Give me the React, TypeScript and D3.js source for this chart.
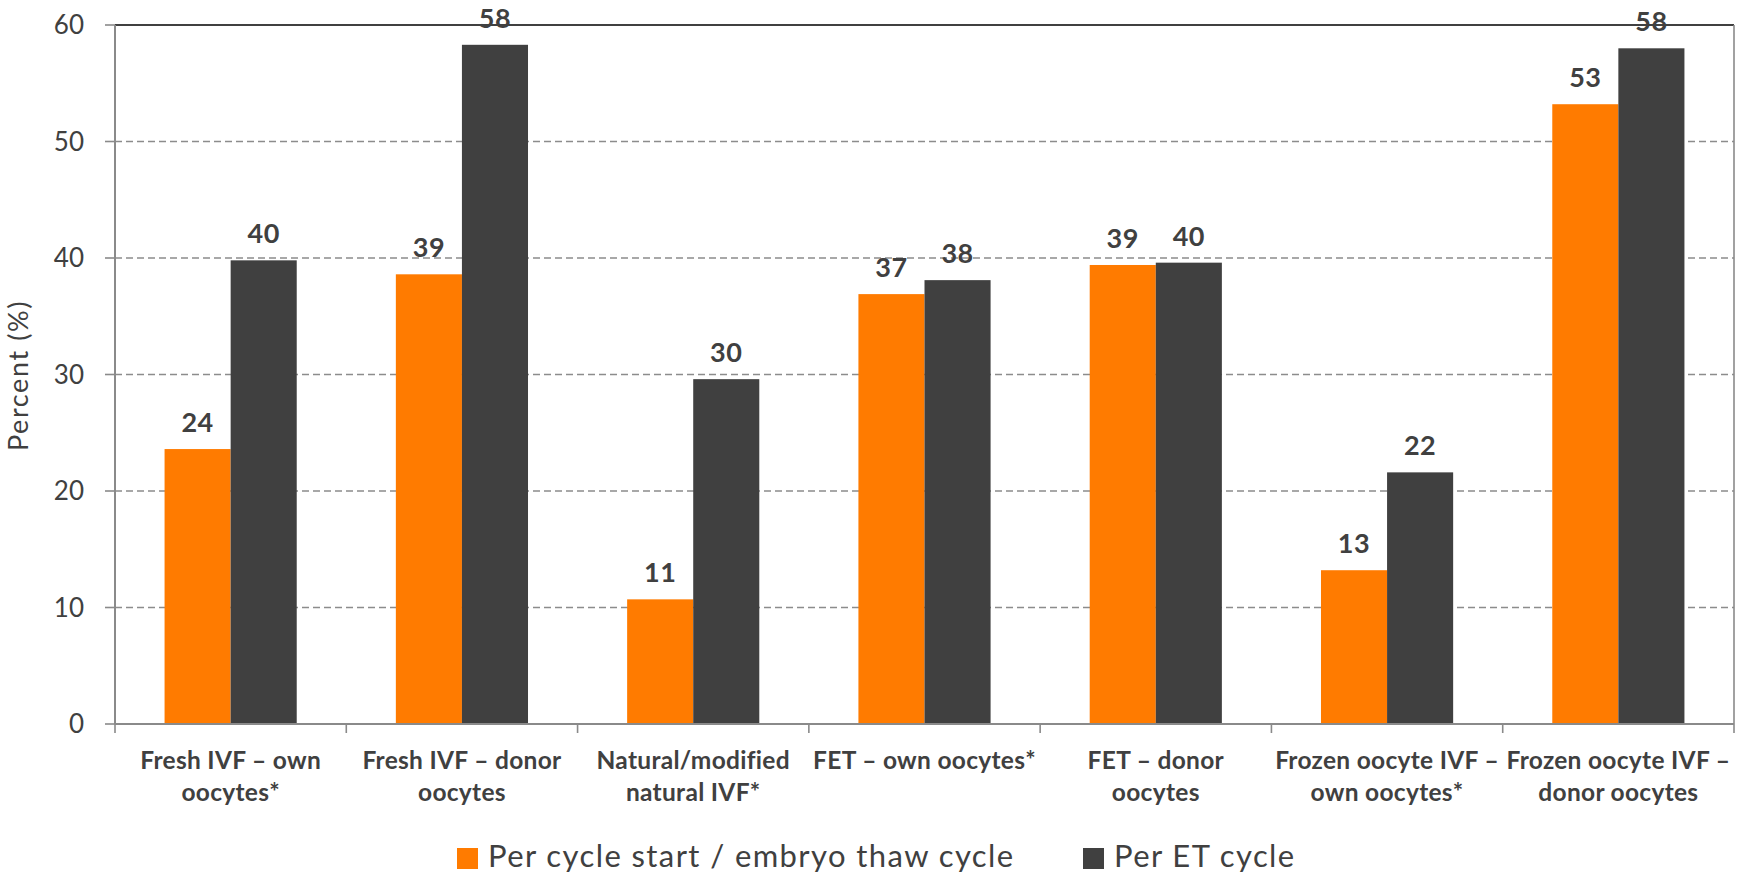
import * as d3 from 'd3';
import { useEffect, useRef } from 'react';

const categories = [
  ['Fresh IVF – own', 'oocytes*'],
  ['Fresh IVF – donor', 'oocytes'],
  ['Natural/modified', 'natural IVF*'],
  ['FET – own oocytes*'],
  ['FET – donor', 'oocytes'],
  ['Frozen oocyte IVF –', 'own oocytes*'],
  ['Frozen oocyte IVF –', 'donor oocytes'],
];

const perCycleStart = [23.6, 38.6, 10.7, 36.9, 39.4, 13.2, 53.2];
const perEtCycle = [39.8, 58.3, 29.6, 38.1, 39.6, 21.6, 58.0];

const seriesNames = ['Per cycle start / embryo thaw cycle', 'Per ET cycle'];
const yTicks = [0, 10, 20, 30, 40, 50, 60];

const colors = { orange: '#ff7b00', dark: '#404040', text: '#404040', grid: '#8c8c8c', axis: '#8a8a8a' };
const FONT = 'Lato, "Open Sans", sans-serif';

const W = 1748;
const H = 877;

export default function App() {
  const svgRef = useRef<SVGSVGElement>(null);

  useEffect(() => {
    const svgEl = svgRef.current;
    if (!svgEl) return;
    const svg = d3.select(svgEl);
    svg.selectAll('*').remove();

    const margin = { top: 25, right: 14, bottom: 153, left: 115 };
    const innerW = W - margin.left - margin.right;
    const innerH = H - margin.top - margin.bottom;

    const g = svg.append('g').attr('transform', `translate(${margin.left},${margin.top})`);

    const idx = categories.map((_, i) => String(i));
    const x0 = d3.scaleBand<string>().domain(idx).range([0, innerW]).paddingInner(0).paddingOuter(0);
    const barW = x0.bandwidth() / 3.5;
    const y = d3.scaleLinear().domain([0, 60]).range([innerH, 0]);

    // grid
    g.selectAll('.grid')
      .data(yTicks.filter((t) => t > 0 && t < 60))
      .join('line')
      .attr('x1', 0)
      .attr('x2', innerW)
      .attr('y1', (d) => y(d))
      .attr('y2', (d) => y(d))
      .attr('stroke', colors.grid)
      .attr('stroke-width', 1.6)
      .attr('stroke-dasharray', '7 4');

    // top + right frame
    g.append('line').attr('x1', 0).attr('x2', innerW).attr('y1', y(60)).attr('y2', y(60))
      .attr('stroke', colors.dark).attr('stroke-width', 2);
    g.append('line').attr('x1', innerW).attr('x2', innerW).attr('y1', 0).attr('y2', innerH)
      .attr('stroke', colors.axis).attr('stroke-width', 1.6);

    const series = [
      { values: perCycleStart, color: colors.orange, off: 0 },
      { values: perEtCycle, color: colors.dark, off: 1 },
    ];

    series.forEach((s) => {
      const bx = (i: number) => x0(String(i))! + x0.bandwidth() / 2 - barW + s.off * barW;
      g.selectAll(null)
        .data(s.values)
        .join('rect')
        .attr('x', (_, i) => bx(i))
        .attr('y', (d) => y(d))
        .attr('width', barW)
        .attr('height', (d) => innerH - y(d))
        .attr('fill', s.color);

      g.selectAll(null)
        .data(s.values)
        .join('text')
        .attr('x', (_, i) => bx(i) + barW / 2)
        .attr('y', (d) => y(d) - 17)
        .attr('text-anchor', 'middle')
        .attr('font-family', FONT)
        .attr('font-weight', 700)
        .attr('font-size', 27)
        .attr('letter-spacing', 0.5)
        .attr('fill', colors.text)
        .text((d) => Math.round(d));
    });

    // y axis
    g.append('line').attr('x1', 0).attr('x2', 0).attr('y1', 0).attr('y2', innerH)
      .attr('stroke', colors.axis).attr('stroke-width', 2);
    g.selectAll('.ytick')
      .data(yTicks)
      .join('line')
      .attr('x1', -10)
      .attr('x2', 0)
      .attr('y1', (d) => y(d))
      .attr('y2', (d) => y(d))
      .attr('stroke', colors.axis)
      .attr('stroke-width', 1.6);
    g.selectAll('.ylab')
      .data(yTicks)
      .join('text')
      .attr('x', -31)
      .attr('y', (d) => y(d))
      .attr('dy', '0.36em')
      .attr('text-anchor', 'end')
      .attr('font-family', FONT)
      .attr('font-size', 26)
      .attr('fill', colors.text)
      .text((d) => d);

    g.append('text')
      .attr('transform', `translate(${-87},${innerH / 2 + 1}) rotate(-90)`)
      .attr('text-anchor', 'middle')
      .attr('font-family', FONT)
      .attr('font-size', 27)
      .attr('letter-spacing', 1.6)
      .attr('fill', colors.text)
      .text('Percent (%)');

    // x axis
    g.append('line').attr('x1', 0).attr('x2', innerW).attr('y1', innerH).attr('y2', innerH)
      .attr('stroke', colors.axis).attr('stroke-width', 2);
    g.selectAll('.xtick')
      .data(d3.range(categories.length + 1))
      .join('line')
      .attr('x1', (i) => i * x0.step())
      .attr('x2', (i) => i * x0.step())
      .attr('y1', innerH)
      .attr('y2', innerH + 9)
      .attr('stroke', colors.axis)
      .attr('stroke-width', 1.6);

    const xl = g.selectAll('.xlab')
      .data(categories)
      .join('text')
      .attr('text-anchor', 'middle')
      .attr('font-family', FONT)
      .attr('font-weight', 700)
      .attr('font-size', 24.5)
      .attr('letter-spacing', 0.3)
      .attr('fill', colors.text)
      .attr('transform', (_, i) => `translate(${x0(String(i))! + x0.bandwidth() / 2},${innerH + 45})`);
    xl.selectAll('tspan')
      .data((d) => d)
      .join('tspan')
      .attr('x', 0)
      .attr('y', (_, j) => j * 32)
      .text((d) => d);

    // legend
    const legend = svg.append('g').attr('transform', `translate(457,867)`);
    const items = [
      { name: seriesNames[0], color: colors.orange, x: 0 },
      { name: seriesNames[1], color: colors.dark, x: 626 },
    ];
    items.forEach((it) => {
      legend.append('rect').attr('x', it.x).attr('y', -19).attr('width', 21).attr('height', 21).attr('fill', it.color);
      legend.append('text')
        .attr('x', it.x + 31)
        .attr('y', 0)
        .attr('font-family', FONT)
        .attr('font-size', 31)
        .attr('letter-spacing', 1.4)
        .attr('fill', colors.text)
        .text(it.name);
    });
  }, []);

  return (
    <svg
      ref={svgRef}
      width={W}
      height={H}
      style={{ position: 'absolute', left: 0, top: 0, background: '#fff' }}
    />
  );
}
